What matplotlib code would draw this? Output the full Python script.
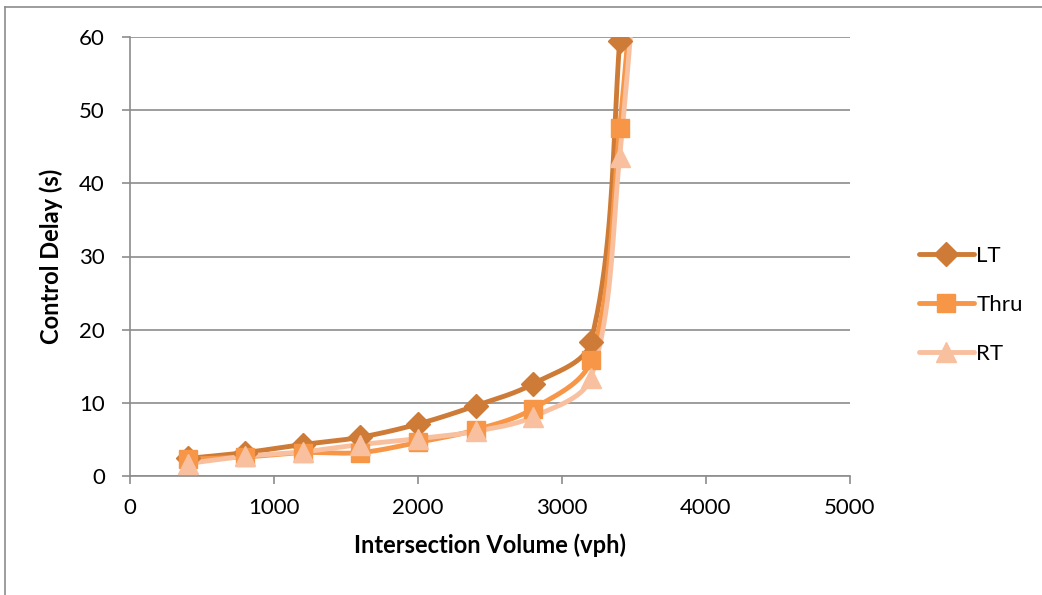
import matplotlib.pyplot as plt
import numpy as np

plt.rcParams['font.family'] = ['Lato', 'DejaVu Sans']

volume = [400, 800, 1200, 1600, 2000, 2400, 2800, 3200, 3400, 3600]
lt_delay = [2.4, 3.2, 4.3, 5.3, 7.1, 9.6, 12.6, 18.3, 59.4, 130]
thru_delay = [2.3, 2.6, 3.2, 3.2, 4.6, 6.3, 9.2, 15.8, 47.5, 95]
rt_delay = [1.7, 2.7, 3.3, 4.3, 5.1, 6.1, 8.1, 13.4, 43.6, 92]

XMAX, YMAX = 5000, 60
AX_W, AX_H = 720, 439  # plot area in pixels


def smooth(x, y, n=40):
    # bezier through the points, tangents weighted by chord length (screen units)
    pts = np.column_stack([np.asarray(x, float) / XMAX * AX_W,
                           np.asarray(y, float) / YMAX * AX_H])
    m = len(pts)
    c_in = np.zeros_like(pts)
    c_out = np.zeros_like(pts)
    for i in range(m):
        prev = pts[i - 1] if i > 0 else pts[i]
        nxt = pts[i + 1] if i < m - 1 else pts[i]
        d = nxt - prev
        l_in = np.hypot(*(pts[i] - prev))
        l_out = np.hypot(*(nxt - pts[i]))
        tot = l_in + l_out
        c_in[i] = pts[i] - d * (l_in / tot) / 3
        c_out[i] = pts[i] + d * (l_out / tot) / 3
    out = []
    t = np.linspace(0, 1, n)[:, None]
    for i in range(m - 1):
        p1, p2, a, b = pts[i], pts[i + 1], c_out[i], c_in[i + 1]
        seg = (1 - t) ** 3 * p1 + 3 * (1 - t) ** 2 * t * a + 3 * (1 - t) * t ** 2 * b + t ** 3 * p2
        out.append(seg)
    curve = np.vstack(out)
    return curve[:, 0] / AX_W * XMAX, curve[:, 1] / AX_H * YMAX


fig = plt.figure(figsize=(10.42, 5.95), dpi=100)
ax = fig.add_axes([130 / 1042, 1 - 476 / 595, AX_W / 1042, AX_H / 595])

series = [
    ("LT", lt_delay, "#CD7B36", "D", 12),
    ("Thru", thru_delay, "#F79646", "s", 13),
    ("RT", rt_delay, "#F9C09F", "^", 14),
]
for name, vals, col, mk, ms in series:
    sx, sy = smooth(volume, vals)
    ax.plot(sx, sy, color=col, lw=3.5, solid_capstyle="round", zorder=3)
    ax.plot(volume[:-1], vals[:-1], linestyle="none", marker=mk, ms=ms,
            color=col, markeredgecolor=col, zorder=4)
    ax.plot([], [], color=col, lw=3.5, marker=mk, ms=ms, label=name,
            solid_capstyle="round")

ax.set_xlim(0, XMAX)
ax.set_ylim(0, YMAX)
ax.set_xticks(range(0, 5001, 1000))
ax.set_yticks(range(0, 61, 10))
ax.yaxis.grid(True, color="#8C8C8C", lw=1.2)
ax.set_axisbelow(True)
for s in ("top", "right"):
    ax.spines[s].set_visible(False)
for s in ("left", "bottom"):
    ax.spines[s].set_color("#8C8C8C")
    ax.spines[s].set_linewidth(1.2)
ax.tick_params(axis="both", colors="#8C8C8C", labelcolor="black",
               labelsize=16, length=6, width=1.2)
ax.tick_params(axis="y", pad=12)
ax.tick_params(axis="x", pad=10)
ax.set_xlabel("Intersection Volume (vph)", fontsize=17, fontweight="bold")
ax.set_ylabel("Control Delay (s)", fontsize=17, fontweight="bold")
ax.xaxis.set_label_coords(0.5, -(533 - 476) / AX_H)
ax.yaxis.set_label_coords(-(130 - 63) / AX_W, 0.5)

ax.legend(loc="center left", bbox_to_anchor=(1.083, (476 - 305) / AX_H), frameon=False,
          fontsize=16, handlelength=2.5, labelspacing=1.3, handletextpad=0.1,
          borderaxespad=0)

# outer chart frame
fig.add_artist(plt.Line2D([5 / 1042, 5 / 1042], [0, 1 - 7 / 595],
                          transform=fig.transFigure, color="#8C8C8C", lw=1.2))
fig.add_artist(plt.Line2D([5 / 1042, 1], [1 - 7 / 595, 1 - 7 / 595],
                          transform=fig.transFigure, color="#8C8C8C", lw=1.2))

fig.savefig("out.png", dpi=100)
